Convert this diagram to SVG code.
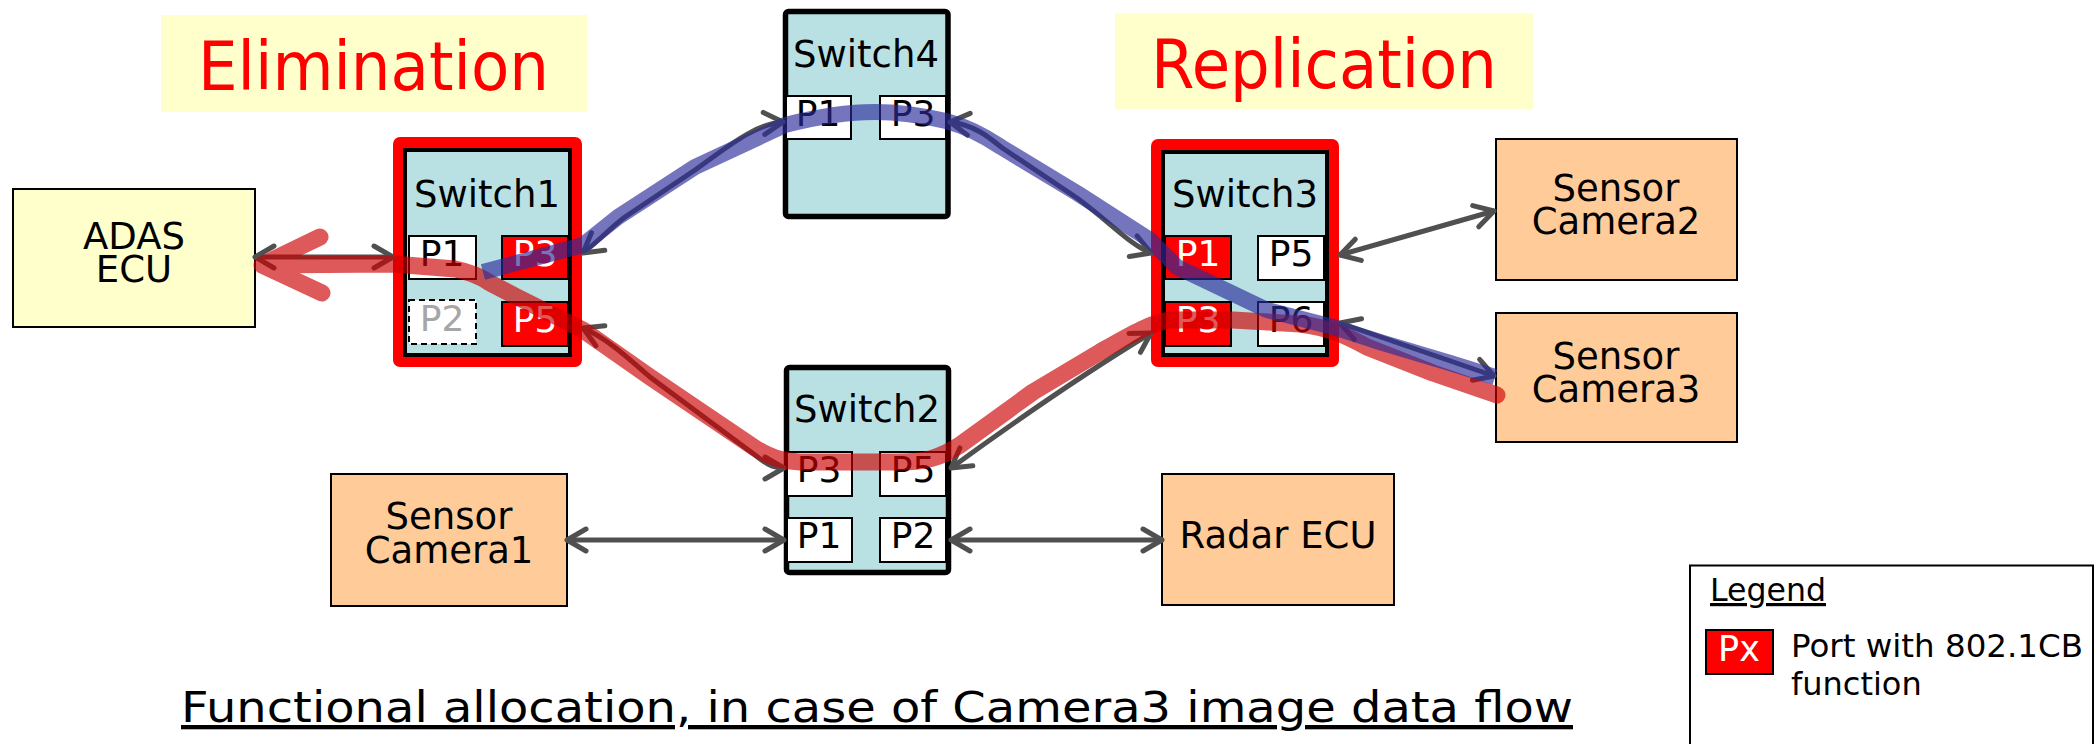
<svg xmlns="http://www.w3.org/2000/svg" width="2097" height="744" viewBox="0 0 2097 744">
<style>
text{font-family:"DejaVu Sans","Verdana",sans-serif;fill:#000}
.box{stroke:#000;stroke-width:2}
.ecu{fill:#FFFFCC}
.sen{fill:#FFCC99}
.swin{fill:#B9E1E4;stroke:#000;stroke-width:4}
.swout{fill:#B9E1E4;stroke:#000;stroke-width:5.5}
.red{fill:#FF0000}
.port{fill:#FFFFFF;stroke:#000;stroke-width:2}
.rport{fill:#FF0000;stroke:#000;stroke-width:2}
.dport{fill:#FFFFFF;stroke:#000;stroke-width:2;stroke-dasharray:6 4}
.pt{font-size:36px;text-anchor:middle}
.rpt{font-size:36px;text-anchor:middle;fill:#FFFFFF}
.gpt{font-size:36px;text-anchor:middle;fill:#A6A6A6}
.swt{font-size:37px;text-anchor:middle}
.nt{font-size:37px;text-anchor:middle}
.title{font-size:67px;fill:#FF0000}
.conn{fill:none;stroke:#505050;stroke-width:5;marker-start:url(#ah);marker-end:url(#ah)}
.flowr{fill:none;stroke:#CC0000;stroke-opacity:0.65;stroke-width:17;stroke-linejoin:round}
.flowb{fill:none;stroke:#2B2B99;stroke-opacity:0.65;stroke-width:16;stroke-linejoin:round}
</style>
<defs>
<marker id="ah" viewBox="-26 -15 30 30" refX="0" refY="0" markerWidth="30" markerHeight="30" markerUnits="userSpaceOnUse" orient="auto-start-reverse">
<path d="M-19,-11 L0,0 L-19,11" fill="none" stroke="#505050" stroke-width="5" stroke-linecap="round" stroke-linejoin="round"/>
</marker>
</defs>

<g id="title-elimination">
<rect x="161" y="15" width="426" height="97" fill="#FFFFCC"/>
<text class="title" x="198" y="90" textLength="351" lengthAdjust="spacingAndGlyphs">Elimination</text>
</g>
<g id="title-replication">
<rect x="1115" y="13" width="418" height="96" fill="#FFFFCC"/>
<text class="title" x="1151" y="88" textLength="346" lengthAdjust="spacingAndGlyphs">Replication</text>
</g>

<g id="adas-ecu">
<rect class="box ecu" x="13" y="189" width="242" height="138"/>
<text class="nt" x="134" y="249">ADAS<tspan x="134" y="282">ECU</tspan></text>
</g>

<g id="switch1">
<rect class="red" x="393" y="137" width="189" height="230" rx="7"/>
<rect class="swin" x="405" y="150" width="165" height="205"/>
<text class="swt" x="487" y="207">Switch1</text>
<rect class="port" x="409" y="236" width="67" height="43"/>
<text class="pt" x="442" y="266">P1</text>
<rect class="rport" x="502" y="236" width="66" height="43"/>
<text class="rpt" x="535" y="266">P3</text>
<rect class="dport" x="409" y="300" width="67" height="44"/>
<text class="gpt" x="442" y="331">P2</text>
<rect class="rport" x="502" y="302" width="66" height="44"/>
<text class="rpt" x="535" y="332">P5</text>
</g>

<g id="switch4">
<rect class="swout" x="785.5" y="11.5" width="162.5" height="205" rx="3"/>
<text class="swt" x="866" y="67">Switch4</text>
<rect class="port" x="786" y="96" width="65" height="43"/>
<text class="pt" x="818" y="126">P1</text>
<rect class="port" x="880" y="96" width="66" height="43"/>
<text class="pt" x="913" y="126">P3</text>
</g>

<g id="switch3">
<rect class="red" x="1151" y="139" width="188" height="228" rx="7"/>
<rect class="swin" x="1163" y="152" width="164" height="203"/>
<text class="swt" x="1245" y="207">Switch3</text>
<rect class="rport" x="1165" y="236" width="66" height="43"/>
<text class="rpt" x="1198" y="266">P1</text>
<rect class="port" x="1258" y="236" width="66" height="44"/>
<text class="pt" x="1291" y="266">P5</text>
<rect class="rport" x="1165" y="302" width="66" height="44"/>
<text class="rpt" x="1198" y="332">P3</text>
<rect class="port" x="1258" y="302" width="66" height="44"/>
<text class="pt" x="1291" y="332">P6</text>
</g>

<g id="switch2">
<rect class="swout" x="786.5" y="367.5" width="162" height="205" rx="3"/>
<text class="swt" x="867" y="422">Switch2</text>
<rect class="port" x="787" y="452" width="65" height="44"/>
<text class="pt" x="819" y="482">P3</text>
<rect class="port" x="880" y="452" width="66" height="44"/>
<text class="pt" x="913" y="482">P5</text>
<rect class="port" x="787" y="518" width="65" height="44"/>
<text class="pt" x="819" y="548">P1</text>
<rect class="port" x="880" y="518" width="66" height="44"/>
<text class="pt" x="913" y="548">P2</text>
</g>

<g id="sensor-camera2">
<rect class="box sen" x="1496" y="139" width="241" height="141"/>
<text class="nt" x="1616" y="201">Sensor<tspan x="1616" y="234">Camera2</tspan></text>
</g>
<g id="sensor-camera3">
<rect class="box sen" x="1496" y="313" width="241" height="129"/>
<text class="nt" x="1616" y="369">Sensor<tspan x="1616" y="402">Camera3</tspan></text>
</g>
<g id="sensor-camera1">
<rect class="box sen" x="331" y="474" width="236" height="132"/>
<text class="nt" x="449" y="529">Sensor<tspan x="449" y="563">Camera1</tspan></text>
</g>
<g id="radar-ecu">
<rect class="box sen" x="1162" y="474" width="232" height="131"/>
<text class="nt" x="1278" y="548">Radar ECU</text>
</g>

<g id="connectors">
<path class="conn" d="M255,257 L393,257"/>
<path class="conn" d="M583,253 C600,240 610,228 625,217 L695,170 C730,145 755,124 783,122"/>
<path class="conn" d="M950,122 C975,125 990,138 1001,147 L1077,198 C1110,222 1130,245 1151,253"/>
<path class="conn" d="M583,328 C610,340 630,360 650,377 L755,455 C765,463 772,468 784,468"/>
<path class="conn" d="M951,468 C1010,425 1090,370 1151,333"/>
<path class="conn" d="M1340,255 L1494,211"/>
<path class="conn" d="M1340,323 L1494,376"/>
<path class="conn" d="M567,540 L784,540"/>
<path class="conn" d="M951,540 L1162,540"/>
</g>

<g id="flows">
<path class="flowr" d="M1497,395 L1433,373 L1367,347 C1345,335 1330,328 1300,324 L1233,320 L1170,320 C1150,323 1130,335 1100,352 L1033,392 L960,445 C940,458 925,462 900,462 L800,462 C780,461 770,457 755,448 L650,377 L583,330 L517,297 L490,283 C480,276 470,272 455,269 L393,264 L262,265 M320,237 L262,265 L322,293" stroke-linecap="round"/>
<path class="flowb" d="M1495,377 L1450,363 L1383,343 L1333,327 L1267,310 L1177,267 L1150,240 L1077,193 L1001,147 C980,133 965,126 946,121 C920,115 900,112 875,112 C850,112 820,116 785,125 L695,167 L618,217 L583,245 L483,272"/>
</g>

<g id="legend">
<rect x="1690" y="565.5" width="403" height="250" fill="none" stroke="#000" stroke-width="2"/>
<text x="1710" y="601" font-size="32" text-decoration="underline" textLength="116" lengthAdjust="spacingAndGlyphs">Legend</text>
<rect x="1706" y="630" width="67" height="44" fill="#FF0000" stroke="#000" stroke-width="2"/>
<text x="1739" y="661" font-size="35" text-anchor="middle" style="fill:#FFFFFF">Px</text>
<text x="1791" y="657" font-size="32"><tspan textLength="292" lengthAdjust="spacingAndGlyphs">Port with 802.1CB</tspan><tspan x="1791" y="695">function</tspan></text>
</g>

<g id="caption">
<text x="181" y="722" font-size="43" text-decoration="underline" textLength="1392" lengthAdjust="spacingAndGlyphs">Functional allocation, in case of Camera3 image data flow</text>
</g>
</svg>
